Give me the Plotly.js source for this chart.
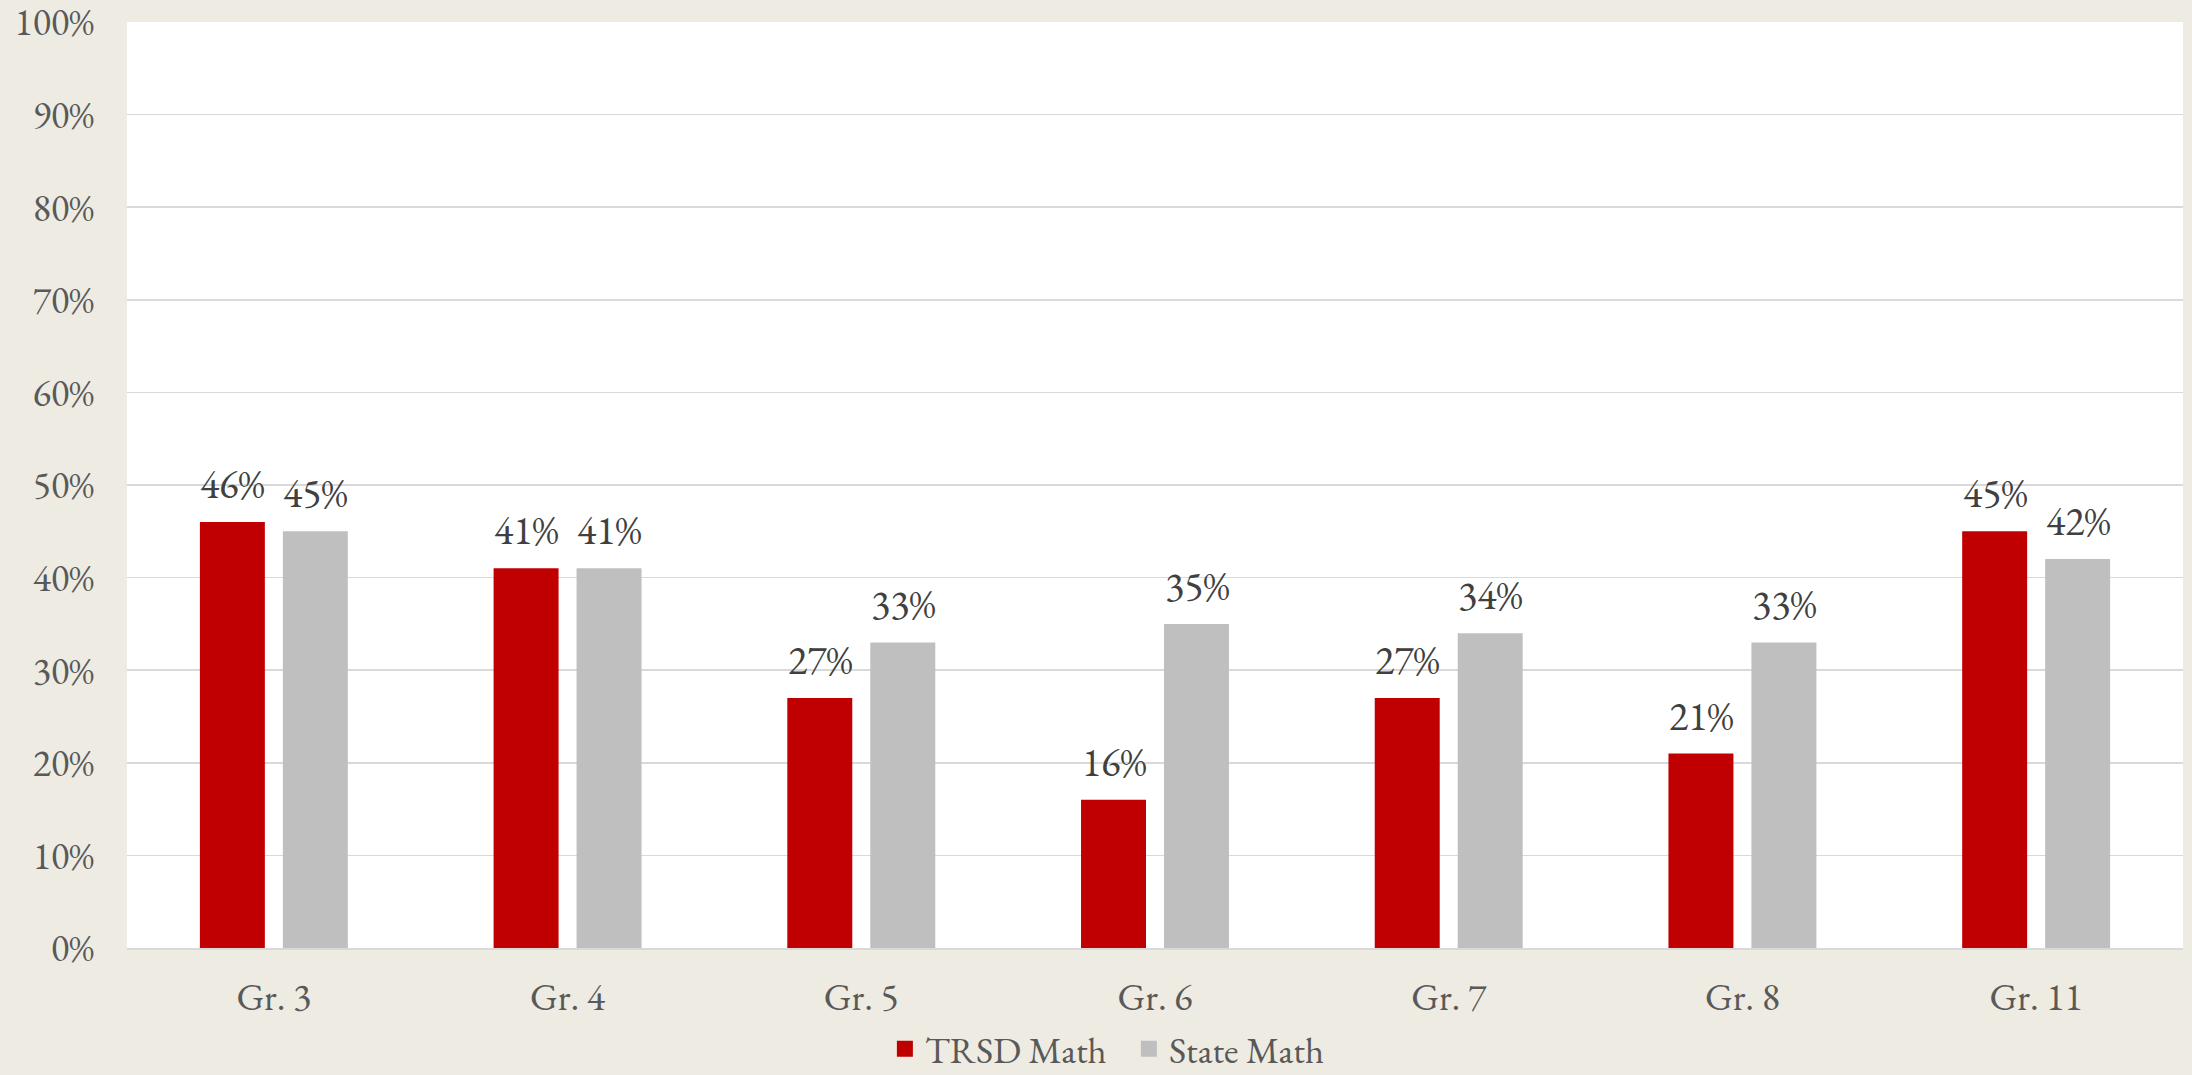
<!DOCTYPE html>
<html>
<head>
<meta charset="utf-8">
<script src="https://cdn.plot.ly/plotly-3.0.1.min.js"></script>
<style>html,body{margin:0;padding:0;background:#EEEBE3;}#chart{width:2192px;height:1075px;}</style>
</head>
<body>
<div id="chart"></div>
<script>
const categories = ["Gr. 3", "Gr. 4", "Gr. 5", "Gr. 6", "Gr. 7", "Gr. 8", "Gr. 11"];
const trsdMath = [46, 41, 27, 16, 27, 21, 45];
const stateMath = [45, 41, 33, 35, 34, 33, 42];
const yTicks = [0, 10, 20, 30, 40, 50, 60, 70, 80, 90, 100];
const seriesNames = ["TRSD Math", "State Math"];
const seriesColors = ["#C00000", "#BFBFBF"];

const FONT = "'EB Garamond', Garamond, 'Liberation Serif', serif";
const TEXT_COLOR = "#595959";
const LABEL_COLOR = "#404040";

const traces = [
  {type: "bar", name: seriesNames[0], x: categories, y: trsdMath,
   marker: {color: seriesColors[0]}, showlegend: false},
  {type: "bar", name: seriesNames[1], x: categories, y: stateMath,
   marker: {color: seriesColors[1]}, showlegend: false}
];
// legend-only entries with larger square swatches
seriesNames.forEach((n, i) => {
  traces.push({type: "scatter", mode: "markers", name: n, x: [null], y: [null],
    marker: {symbol: "square", size: 19, color: seriesColors[i]}, showlegend: true});
});

const annotations = [];
function addLabels(vals, shift) {
  vals.forEach((v, i) => {
    annotations.push({
      x: categories[i], y: v, xref: "x", yref: "y",
      text: v + "%", showarrow: false, xanchor: "center", yanchor: "bottom",
      xshift: shift, yshift: 10,
      font: {family: FONT, size: 40, color: LABEL_COLOR}
    });
  });
}
addLabels(trsdMath, -41.5);
addLabels(stateMath, 41.5);

const layout = {
  width: 2192, height: 1075,
  paper_bgcolor: "#EEEBE3", plot_bgcolor: "#FFFFFF",
  margin: {l: 127, r: 9, t: 22, b: 127, pad: 0},
  barmode: "group", bargap: 0.435, bargroupgap: 0.217,
  font: {family: FONT, size: 38, color: TEXT_COLOR},
  showlegend: true,
  legend: {orientation: "h", x: 0.515, xanchor: "center", xref: "container",
           y: 0.024, yanchor: "middle", yref: "container",
           font: {family: FONT, size: 37, color: TEXT_COLOR}, bgcolor: "rgba(0,0,0,0)",
           traceorder: "normal", itemwidth: 30, entrywidth: 199, entrywidthmode: "pixels"},
  xaxis: {type: "category", showgrid: false, showline: true, linecolor: "#D9D9D9", linewidth: 2,
          ticks: "", tickfont: {family: FONT, size: 38, color: TEXT_COLOR}, ticklabelstandoff: 14,
          fixedrange: true, automargin: false},
  yaxis: {range: [0, 100], tickvals: yTicks, ticktext: yTicks.map(v => v + "%"),
          showgrid: true, gridcolor: "#D9D9D9", gridwidth: 1.5, zeroline: false,
          showline: false, ticks: "", ticklabelstandoff: 32, ticklabeloverflow: "allow",
          tickfont: {family: FONT, size: 38, color: TEXT_COLOR}, fixedrange: true, automargin: false},
  annotations: annotations
};

Plotly.newPlot("chart", traces, layout, {displayModeBar: false, staticPlot: true});
</script>
</body>
</html>
